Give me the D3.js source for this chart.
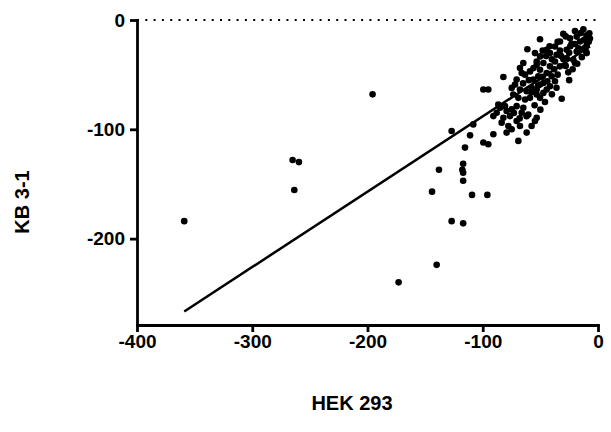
<!DOCTYPE html>
<html>
<head>
<meta charset="utf-8">
<script src="https://cdn.jsdelivr.net/npm/d3@7"></script>
<style>
  body { margin: 0; background: #fff; }
  text { font-family: "Liberation Sans", Arial, sans-serif; font-weight: bold; }
</style>
</head>
<body>
<svg id="chart" width="611" height="432"></svg>
<script>
// HEK 293 (x) vs KB 3-1 (y)
var hek = [-359, -265, -259.5, -263.5, -195.6, -138, -117, -117.7, -117, -117, -144, -109.3, -96, -127, -117, -140, -173,
  -12.7, -7.5, -18.5, -30.1, -24.3, -15.6, -9.8, -22.9, -33, -37.3, -27.2, -18.5, -10.4, -50.3, -41.7, -35.9, -44.5, -50.3,
  -37.3, -27.2, -21.4, -9.8, -20, -25.8, -33, -41.7, -47.4, -53.2, -61.3, -54.7, -53.2, -64.8, -67.7, -66.2, -63.3, -59,
  -50.3, -44.5, -40.2, -37.3, -41.7, -47.4, -51.8, -56.1, -50.3, -53.2, -57.6, -61.9, -67.7, -72, -70.6, -74.9, -73.5,
  -69.1, -63.3, -59, -53.2, -50.3, -47.4, -44.5, -31.5, -82.1, -99.5, -95.2, -86.5, -85, -80.7, -79.3, -74.9, -70.6,
  -64.8, -66.2, -60.5, -76.4, -82.1, -87.9, -90.8, -83.6, -77.8, -74.9, -79.3, -67.7, -70.6, -53.2, -54.7, -57.6, -61.9,
  -69.1, -90.8, -99.5, -95.2, -111, -108.2, -115.4, -127,
  -15, -20, -28, -12, -8, -17, -25, -33, -30, -40, -45, -38, -35, -28, -22, -48, -56, -60, -44, -52, -58, -65, -46, -55,
  -62, -68, -73, -50, -40, -36, -25, -18, -14, -10, -20, -35, -42, -48, -32, -24, -12, -7];
var kb = [-184, -128, -130, -155.5, -68, -137, -131.5, -137, -139.7, -147, -157, -160, -160, -184, -186, -224, -240,
  -8.5, -12.1, -15.2, -12.7, -16.7, -19.7, -22.7, -21.8, -19.7, -24.2, -27.3, -28.8, -28.8, -17.6, -30.3, -31.8, -27.3, -33.3,
  -37.9, -34.8, -36.4, -30.3, -39.4, -47.9, -42.4, -42.4, -39.4, -37.9, -26.7, -30.3, -40.9, -39.4, -43.9, -48.5, -50, -47,
  -45.5, -48.5, -51.5, -56, -60.6, -57.6, -51.5, -54.5, -59.1, -63.6, -62.1, -65.2, -63.6, -59.1, -54.5, -62.1, -68.2,
  -71.2, -72.7, -71.2, -68.2, -71.2, -66.7, -63.6, -72.1, -52.1, -63.6, -63.6, -77.3, -80.3, -78.8, -83.3, -81.8, -78.8,
  -80.3, -84.8, -86.4, -87.9, -89.4, -84.8, -87.9, -93.9, -97, -100, -103, -97, -92.4, -89.4, -92.4, -97, -103,
  -110.6, -104.5, -112, -113.6, -105.5, -95.5, -116.7, -101.5,
  -12, -22, -15, -18, -20, -26, -30, -28, -36, -36, -33, -45, -50, -42, -45, -52, -44, -55, -56, -60, -66, -58, -75, -78,
  -88, -90, -85, -82, -68, -62, -55, -40, -34, -14, -10, -20, -24, -28, -33, -24, -26, -17];

// linear fit as drawn in the reference
var fitSlope = 0.689;
var fitIntercept = -19.3;

var xTicks = [-400, -300, -200, -100, 0];
var yTicks = [-200, -100, 0];

var svg = d3.select("#chart");
var x = d3.scaleLinear().domain([-400, 0]).range([137, 598]);
var y = d3.scaleLinear().domain([-279, 0]).range([325, 20]);

// zero reference line
svg.append("line")
  .attr("x1", x(-400)).attr("x2", x(0))
  .attr("y1", y(0)).attr("y2", y(0))
  .attr("stroke", "#000").attr("stroke-width", 2.2)
  .attr("stroke-dasharray", "2,6.3");

// points
svg.append("g").selectAll("circle")
  .data(d3.range(hek.length))
  .enter().append("circle")
  .attr("cx", function(i){ return x(hek[i]); })
  .attr("cy", function(i){ return y(kb[i]); })
  .attr("r", 3.3)
  .attr("fill", "#000");

// regression line across the x range
var ext = d3.extent(hek);
svg.append("line")
  .attr("x1", x(ext[0])).attr("y1", y(fitSlope * ext[0] + fitIntercept))
  .attr("x2", x(ext[1])).attr("y2", y(fitSlope * ext[1] + fitIntercept))
  .attr("stroke", "#000").attr("stroke-width", 2.5);

// axes (plain hyphen for negatives, like the original)
var fmt = function(d){ return String(d); };
var xAxis = svg.append("g")
  .attr("transform", "translate(0," + y(-279) + ")")
  .call(d3.axisBottom(x).tickValues(xTicks).tickFormat(fmt).tickSize(7).tickPadding(3).tickSizeOuter(0));
var yAxis = svg.append("g")
  .attr("transform", "translate(" + x(-400) + ",0)")
  .call(d3.axisLeft(y).tickValues(yTicks).tickFormat(fmt).tickSize(7).tickPadding(5).tickSizeOuter(0));

[xAxis, yAxis].forEach(function(a){
  a.select(".domain").attr("stroke-width", 2.8).attr("stroke-linecap", "square");
  a.selectAll(".tick line").attr("stroke-width", 2.8);
  a.selectAll(".tick text").attr("font-size", 19).attr("font-family", "Liberation Sans, Arial, sans-serif")
    .attr("font-weight", "bold").attr("fill", "#000");
});

// titles
svg.append("text")
  .attr("x", 352).attr("y", 410)
  .attr("text-anchor", "middle").attr("font-size", 20)
  .text("HEK 293");
svg.append("text")
  .attr("transform", "translate(29,202) rotate(-90)")
  .attr("text-anchor", "middle").attr("font-size", 20)
  .text("KB 3-1");
</script>
</body>
</html>
